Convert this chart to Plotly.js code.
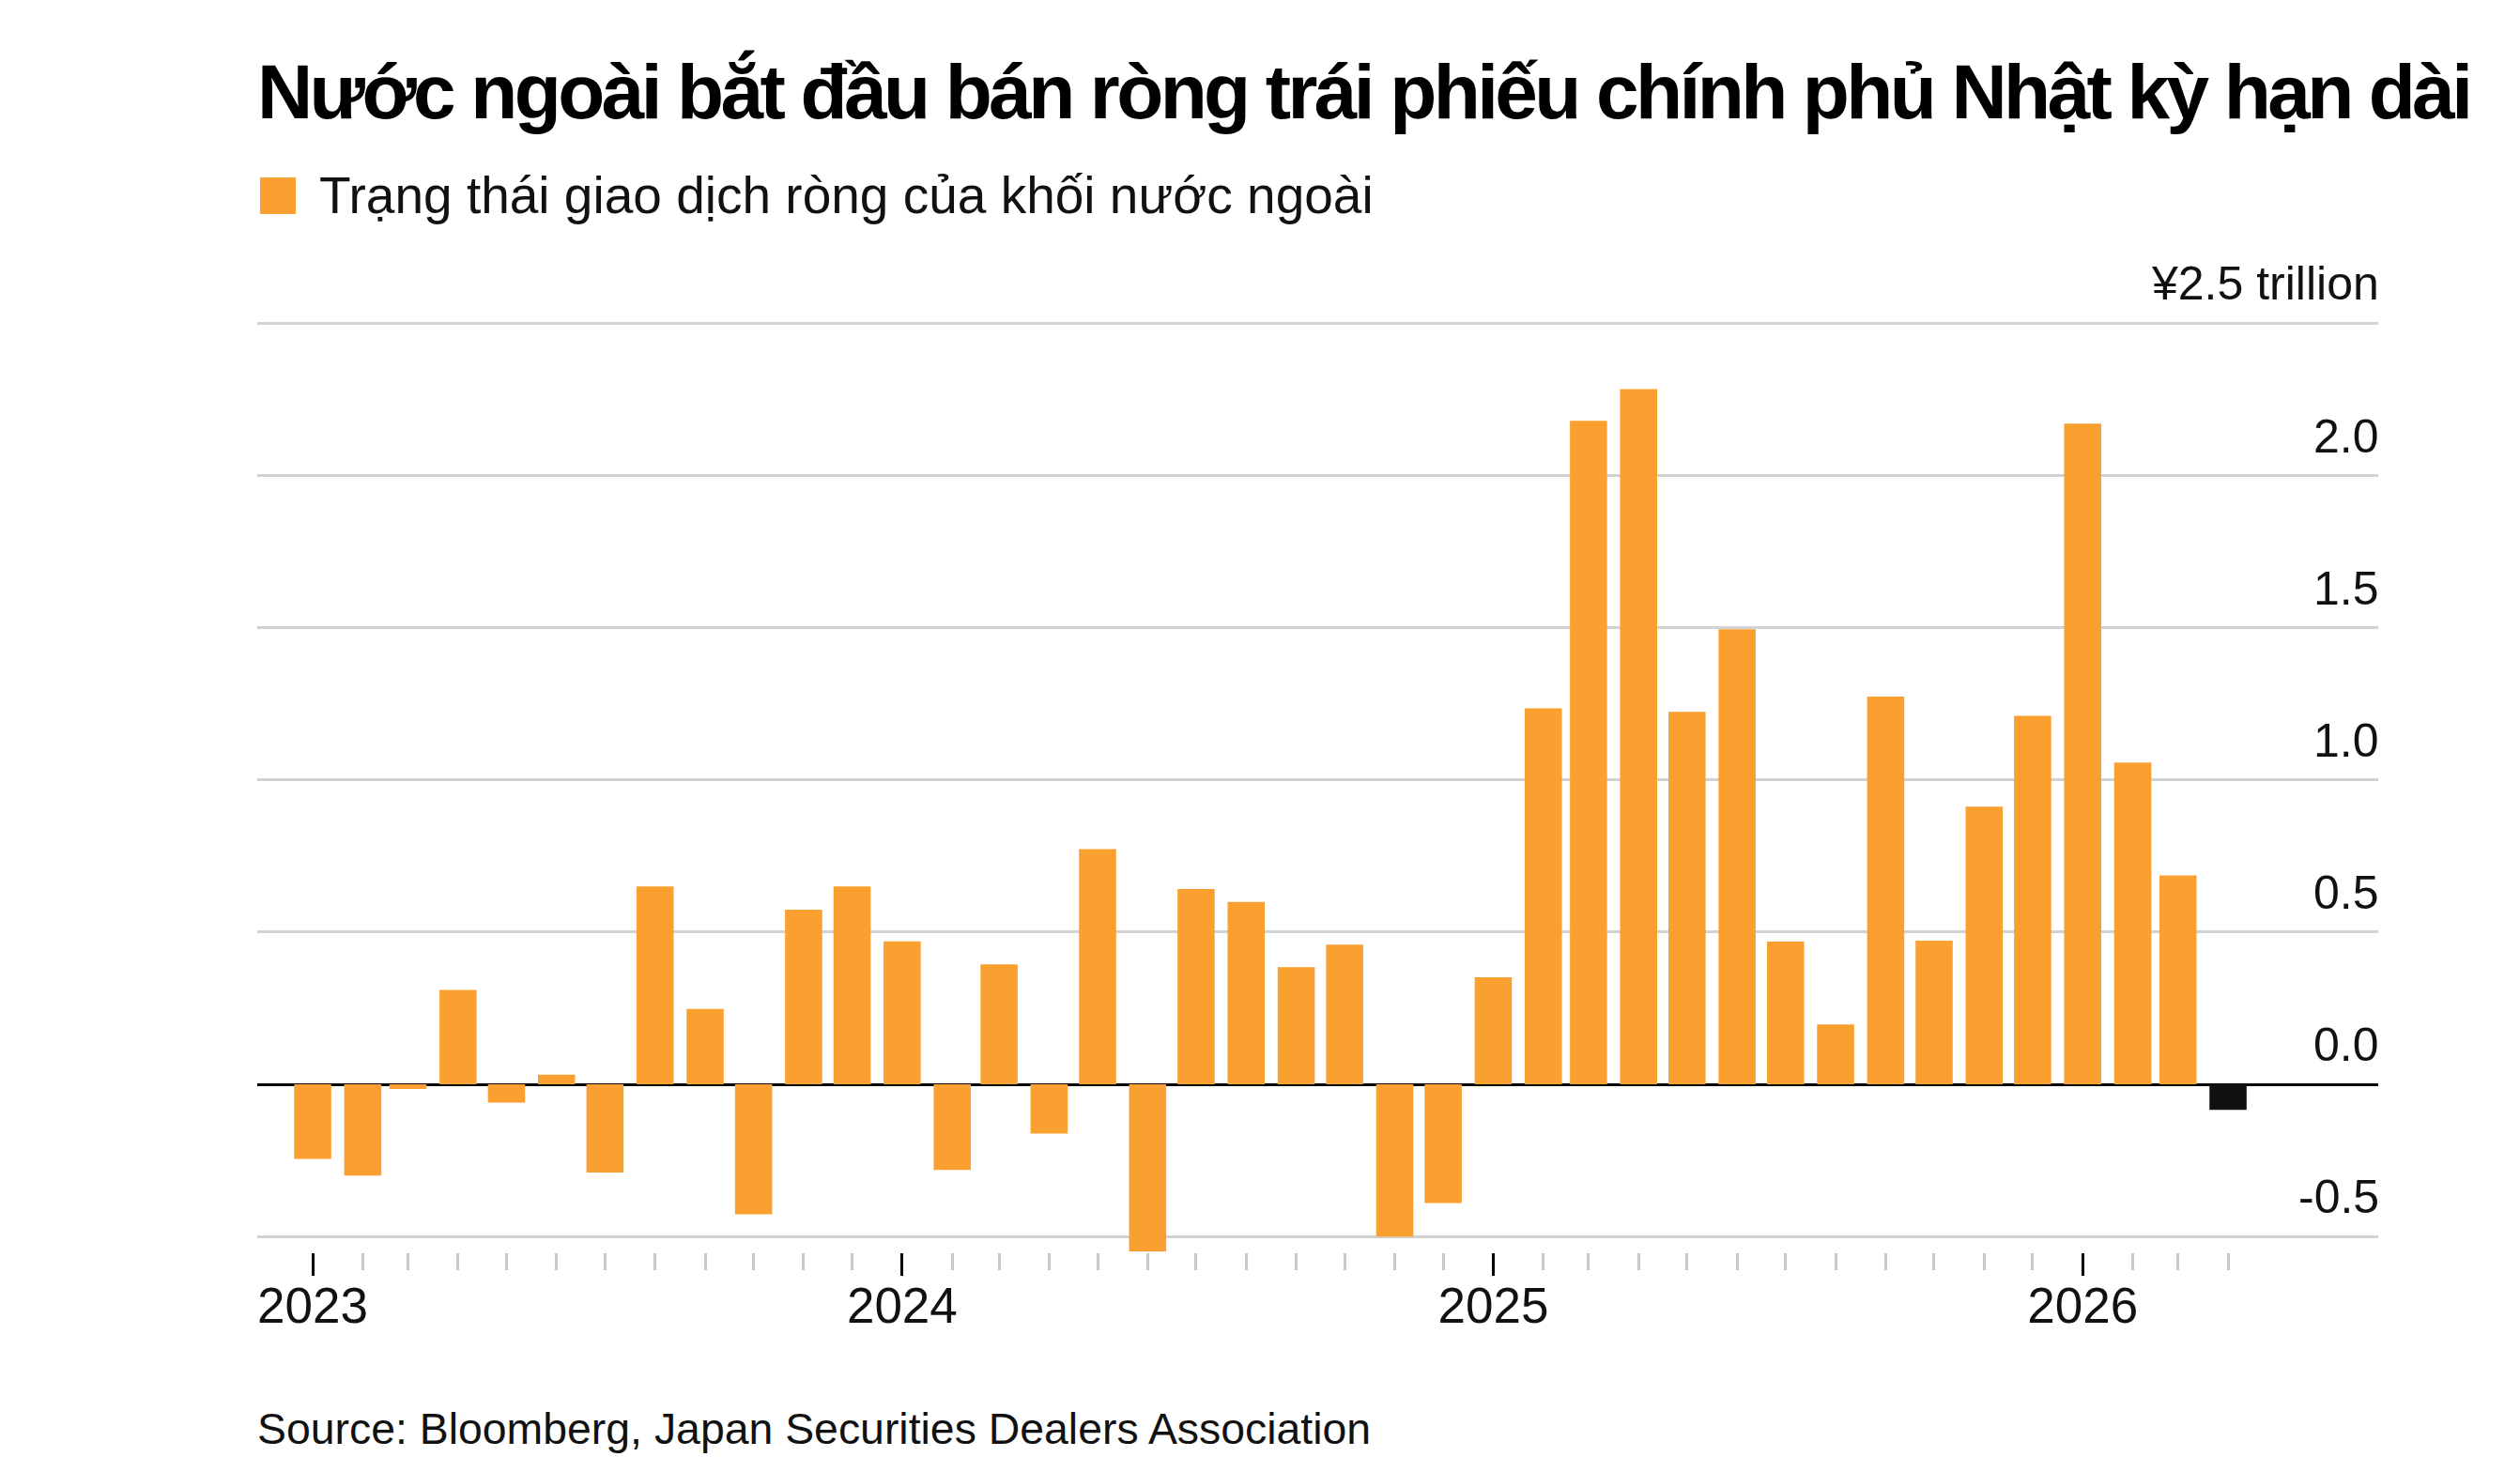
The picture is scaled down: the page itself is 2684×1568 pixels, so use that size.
<!DOCTYPE html>
<html>
<head>
<meta charset="utf-8">
<script src="https://cdn.plot.ly/plotly-3.0.1.min.js"></script>
<style>
  html, body { margin: 0; padding: 0; background: #ffffff; }
  #chart { width: 2684px; height: 1568px; }
  #chart .gtitle { letter-spacing: -3.6px; }
</style>
</head>
<body>
<div id="chart"></div>
<script>
// ---- Data ----
const titleText = "Nước ngoài bắt đầu bán ròng trái phiếu chính phủ Nhật kỳ hạn dài";
const seriesName = "Trạng thái giao dịch ròng của khối nước ngoài";
const sourceText = "Source: Bloomberg, Japan Securities Dealers Association";

const months = [
  "2023-01-01","2023-02-01","2023-03-01","2023-04-01","2023-05-01","2023-06-01",
  "2023-07-01","2023-08-01","2023-09-01","2023-10-01","2023-11-01","2023-12-01",
  "2024-01-01","2024-02-01","2024-03-01","2024-04-01","2024-05-01","2024-06-01",
  "2024-07-01","2024-08-01","2024-09-01","2024-10-01","2024-11-01","2024-12-01",
  "2025-01-01","2025-02-01","2025-03-01","2025-04-01","2025-05-01","2025-06-01",
  "2025-07-01","2025-08-01","2025-09-01","2025-10-01","2025-11-01","2025-12-01",
  "2026-01-01","2026-02-01","2026-03-01","2026-04-01"
];

// Net position of foreign investors, ¥ trillion
const netFlows = [
  -0.245, -0.30, -0.015, 0.31, -0.06, 0.032, -0.29, 0.65, 0.248, -0.427, 0.574, 0.65,
  0.47, -0.281, 0.394, -0.162, 0.773, -0.549, 0.642, 0.599, 0.385, 0.459, -0.50, -0.39,
  0.352, 1.235, 2.18, 2.284, 1.224, 1.495, 0.469, 0.197, 1.274, 0.472, 0.912, 1.211,
  2.171, 1.057, 0.686, -0.084
];

const yTickVals = [-0.5, 0, 0.5, 1, 1.5, 2, 2.5];
const yTickText = ["-0.5", "0.0", "0.5", "1.0", "1.5", "2.0", "¥2.5 trillion"];

const xTickVals = ["2023-01-01", "2024-01-01", "2025-01-01", "2026-01-01"];
const xTickText = ["2023", "2024", "2025", "2026"];

// ---- Styling / layout ----
const W = 2684, H = 1568;
const M = { l: 274, r: 151, t: 338, b: 234 };
const PW = W - M.l - M.r, PH = H - M.t - M.b;
const px2paper = px => (px - M.l) / PW;
const py2paper = py => (H - M.b - py) / PH;

const ORANGE = "#F9A030";
const LATEST = "#111111";
const FONT = "'Liberation Sans', Arial, Helvetica, sans-serif";

const barColors = netFlows.map((v, i) => i === netFlows.length - 1 ? LATEST : ORANGE);

const trace = {
  type: "bar",
  x: months,
  y: netFlows,
  name: seriesName,
  marker: { color: barColors, line: { width: 0 } },
  width: 23 * 86400000,
  showlegend: false,
  hoverinfo: "x+y"
};

const annotations = yTickVals.map((v, i) => ({
  xref: "paper", x: 1, xanchor: "right", xshift: 3,
  yref: "y", y: v, yanchor: "middle", yshift: 42,
  text: yTickText[i], showarrow: false,
  font: { family: FONT, size: 50, color: "#111111" }
}));

annotations.push({
  xref: "paper", x: px2paper(338), xanchor: "left",
  yref: "paper", y: py2paper(208), yanchor: "middle",
  text: seriesName, showarrow: false,
  font: { family: FONT, size: 55, color: "#111111" }
});

annotations.push({
  xref: "paper", x: px2paper(272), xanchor: "left",
  yref: "paper", y: py2paper(1522), yanchor: "middle",
  text: sourceText, showarrow: false,
  font: { family: FONT, size: 46.4, color: "#111111" }
});

const layout = {
  width: W, height: H,
  margin: M,
  paper_bgcolor: "#ffffff",
  plot_bgcolor: "#ffffff",
  title: {
    text: titleText,
    xref: "paper", x: 0, xanchor: "left",
    yref: "container", y: 1 - 97 / H, yanchor: "middle",
    font: { family: FONT, size: 82, weight: 700, color: "#000000" }
  },
  xaxis: {
    type: "date",
    range: ["2022-11-27 16:00", "2026-07-03"],
    tickmode: "array",
    tickvals: xTickVals,
    ticktext: xTickText,
    ticks: "outside",
    ticklen: 24,
    tickwidth: 3,
    tickcolor: "#000000",
    ticklabelstandoff: -14,
    showgrid: false,
    showline: false,
    zeroline: false,
    tickfont: { family: FONT, size: 53, color: "#111111" },
    minor: {
      tickmode: "array",
      tickvals: months,
      ticks: "outside",
      ticklen: 18,
      tickwidth: 2.5,
      tickcolor: "#c8c8c8",
      showgrid: false
    }
  },
  yaxis: {
    range: [-0.552, 2.52],
    tickmode: "array",
    tickvals: yTickVals,
    showticklabels: false,
    ticks: "",
    showgrid: true,
    gridcolor: "#d2d2d2",
    gridwidth: 3,
    zeroline: true,
    zerolinecolor: "#000000",
    zerolinewidth: 3,
    showline: false,
    fixedrange: true
  },
  bargap: 0.25,
  shapes: [{
    type: "rect", xref: "paper", yref: "paper",
    x0: px2paper(277), x1: px2paper(315),
    y0: py2paper(228), y1: py2paper(189),
    fillcolor: ORANGE, line: { width: 0 }
  }],
  annotations: annotations,
  showlegend: false
};

Plotly.newPlot("chart", [trace], layout, { displayModeBar: false, responsive: false });
</script>
</body>
</html>
